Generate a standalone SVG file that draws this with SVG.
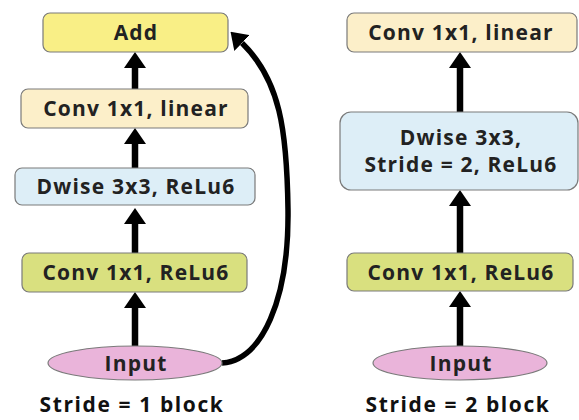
<svg xmlns="http://www.w3.org/2000/svg" width="579" height="420" viewBox="0 0 579 420">
<defs>
<marker id="ah" viewBox="0 0 16 22" refX="0" refY="11" markerWidth="16" markerHeight="22" markerUnits="userSpaceOnUse" orient="auto">
<path d="M0,0 L16,11 L0,22 z" fill="#000"/>
</marker>
<style>
.box{stroke:#7a7a7a;stroke-width:1.2}
.add{fill:#f9ef86}
.lin{fill:#fcefc9}
.dw{fill:#ddeef7}
.relu{fill:#d9e07f}
.inp{fill:#eab4da;stroke:#7a7a7a;stroke-width:1.2}
text{font-family:"Open Sans","Liberation Sans",sans-serif;font-weight:bold;font-size:21px;letter-spacing:1.2px;fill:#222;text-anchor:middle}
.cap{font-size:21px;letter-spacing:1.6px;fill:#111}
.arr{stroke:#000;stroke-width:6.5;fill:none;marker-end:url(#ah)}
.curve{stroke:#000;stroke-width:5.5;fill:none;marker-end:url(#ah)}
</style>
</defs>
<rect width="579" height="420" fill="#fff"/>
<g id="connectors">
<line class="arr" x1="135" y1="89" x2="135" y2="68"/>
<line class="arr" x1="135" y1="168" x2="135" y2="144"/>
<line class="arr" x1="135" y1="253" x2="135" y2="224"/>
<line class="arr" x1="135" y1="346" x2="135" y2="308"/>
<path class="curve" d="M 222 363 C 262 360, 289 300, 288 210 C 287 130, 280 80, 242 43"/>
<line class="arr" x1="460" y1="112" x2="460" y2="68"/>
<line class="arr" x1="460" y1="253" x2="460" y2="206"/>
<line class="arr" x1="460" y1="346" x2="460" y2="307"/>
</g>
<g id="add"><rect class="box add" x="43" y="13" width="185" height="39" rx="7"/><text x="136" y="40">Add</text></g>
<g id="conv-linear-1"><rect class="box lin" x="21" y="89" width="227" height="39" rx="7"/><text x="136" y="116">Conv 1x1, linear</text></g>
<g id="dwise-1"><rect class="box dw" x="15" y="168" width="240" height="37" rx="7"/><text x="136" y="194">Dwise 3x3, ReLu6</text></g>
<g id="conv-relu-1"><rect class="box relu" x="22" y="253" width="225" height="39" rx="7"/><text x="136" y="280">Conv 1x1, ReLu6</text></g>
<g id="input-1"><ellipse class="inp" cx="135" cy="363" rx="87" ry="17"/><text x="136" y="371">Input</text></g>
<g id="caption-1"><text class="cap" x="132" y="412">Stride = 1 block</text></g>
<g id="conv-linear-2"><rect class="box lin" x="347" y="13" width="230" height="39" rx="7"/><text x="461" y="40">Conv 1x1, linear</text></g>
<g id="dwise-2"><rect class="box dw" x="340" y="112" width="238" height="78" rx="11"/><text x="461" y="145">Dwise 3x3,</text><text x="461" y="172">Stride = 2, ReLu6</text></g>
<g id="conv-relu-2"><rect class="box relu" x="347" y="253" width="226" height="38" rx="7"/><text x="461" y="280">Conv 1x1, ReLu6</text></g>
<g id="input-2"><ellipse class="inp" cx="460" cy="363" rx="87" ry="17"/><text x="461" y="371">Input</text></g>
<g id="caption-2"><text class="cap" x="458" y="412">Stride = 2 block</text></g>
</svg>
